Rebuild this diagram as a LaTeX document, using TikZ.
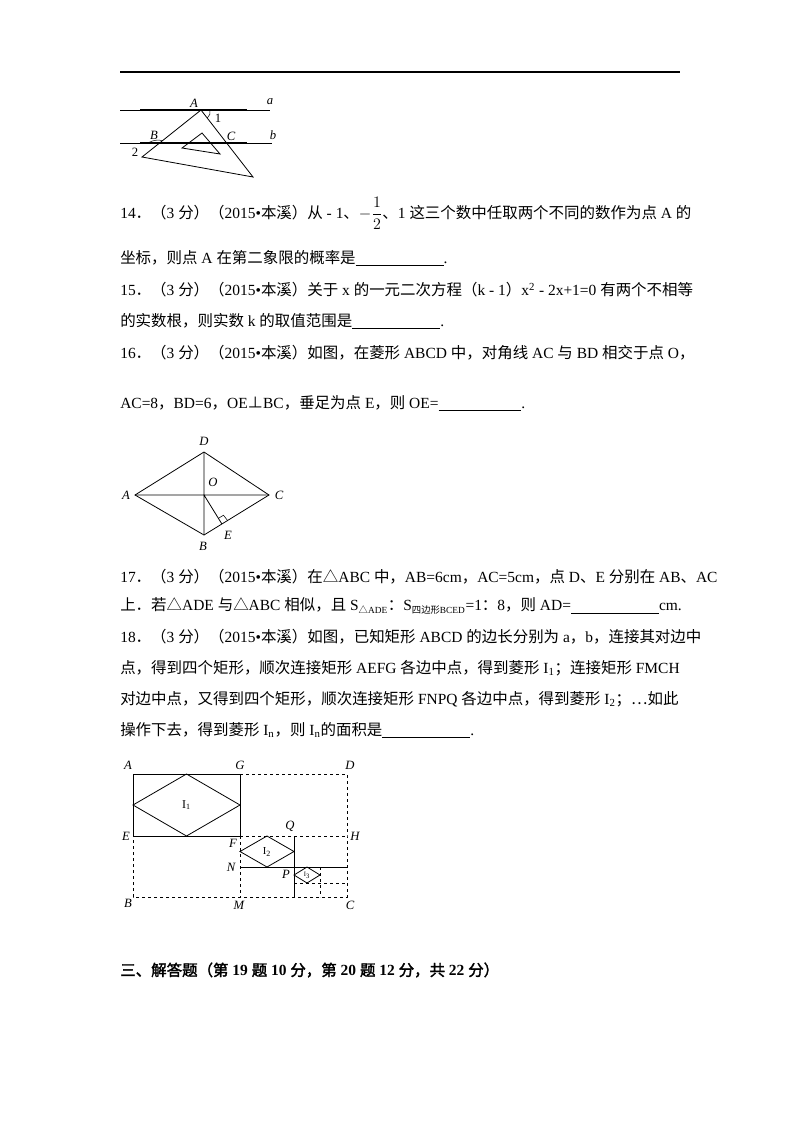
\documentclass[tikz,border=0pt]{standalone}
\usetikzlibrary{calc}
\usepackage{fontspec}
\setmainfont{Liberation Serif}
\newfontfamily\cjk{Noto Sans CJK SC}[AutoFakeBold=2]
\newcommand\z[1]{{\cjk #1}}
\newcommand\blank[1]{\underline{\hspace{#1}}}
\begin{document}
\begin{tikzpicture}[x=0.75pt,y=-0.75pt,
  txt/.style={anchor=west,inner sep=0,font=\fontsize{11.6}{14}\selectfont},
  lab/.style={inner sep=0,font=\fontsize{9.5}{10}\selectfont\itshape},
  fig/.style={line width=0.6pt},
  dsh/.style={line width=0.5pt,dash pattern=on 2.5pt off 2pt}]
\useasboundingbox (0,0) rectangle (800,1132);
\draw[line width=0.8pt] (120,72) -- (680,72);
% figure 1
\draw[fig] (120,110) -- (270,110);
\draw[line width=1.1pt] (140,110) -- (247,110);
\draw[fig] (120,143) -- (272,143);
\draw[line width=1.1pt] (140,143) -- (247,143);
\coordinate (tA) at (201,110); \coordinate (tL) at (142,157); \coordinate (tR) at (253,177);
\draw[fig] (tA) -- (tL) -- (tR) -- cycle;
\draw[fig] (202,133) -- (182,148) -- (220,154) -- cycle;
\draw[line width=0.4pt] ($(tA)!0.12!(tR)$) to[bend right=30] (210,110);
\draw[line width=0.4pt] (148,143) to[bend left=20] ($(tL)!0.35!(tA)$);
\node[lab] (la) at (270,102) {a};
\node[lab] (lb) at (273,135) {b};
\node[lab] (lA) at (194,103) {A};
\node[lab] (lB) at (154,135) {B};
\node[lab] (lC) at (231,136) {C};
\node[lab,font=\fontsize{9.5}{10}\selectfont] (l1) at (218,118) {1};
\node[lab,font=\fontsize{9.5}{10}\selectfont] (l2) at (135,152) {2};
% texts
\node[txt] (t14) at (120,213) {14\z{．（}3 \z{分）（}2015•\z{本溪）从} - 1\z{、}$\displaystyle-\frac{1}{2}$\z{、}1 \z{这三个数中任取两个不同的数作为点} A \z{的}};
\node[txt] (t14b) at (120,258) {\z{坐标，则点} A \z{在第二象限的概率是}\blank{66pt}.};
\node[txt] (t15) at (120,290) {15\z{．（}3 \z{分）（}2015•\z{本溪）关于} x \z{的一元二次方程（}k - 1\z{）}x\textsuperscript{2} - 2x+1=0 \z{有两个不相等}};
\node[txt] (t15b) at (120,321) {\z{的实数根，则实数} k \z{的取值范围是}\blank{66pt}.};
\node[txt] (t16) at (120,353) {16\z{．（}3 \z{分）（}2015•\z{本溪）如图，在菱形} ABCD \z{中，对角线} AC \z{与} BD \z{相交于点} O\z{，}};
\node[txt] (t16b) at (120,403) {AC=8\z{，}BD=6\z{，}OE\z{⊥}BC\z{，垂足为点} E\z{，则} OE=\blank{62pt}.};
% rhombus
\coordinate (rD) at (204,452); \coordinate (rA) at (135,495); \coordinate (rC) at (269,495);
\coordinate (rB) at (204,535); \coordinate (rO) at (204,495); \coordinate (rE) at (221.9,524);
\draw[fig] (rA) -- (rD) -- (rC) -- (rB) -- cycle;
\draw[fig] (rA) -- (rC) (rD) -- (rB) (rO) -- (rE);
\draw[line width=0.4pt] ($(rE)!5pt!(rO)$) -- ++(5.1,-3.1) -- ($(rE)!5pt!(rC)$);
\node[lab] (nD) at (204,441) {D};
\node[lab] (nA) at (126,495) {A};
\node[lab] (nC) at (279,495) {C};
\node[lab] (nB) at (203,546) {B};
\node[lab] (nO) at (213,482) {O};
\node[lab] (nE) at (228,535) {E};
\node[txt] (t17) at (120,577) {17\z{．（}3 \z{分）（}2015•\z{本溪）在△}ABC \z{中，}AB=6cm\z{，}AC=5cm\z{，点} D\z{、}E \z{分别在} AB\z{、}AC};
\node[txt] (t17b) at (120,606) {\z{上．若△}ADE \z{与△}ABC \z{相似，且} S\textsubscript{\z{\scriptsize △}\scriptsize ADE}\z{：}S\textsubscript{\z{\scriptsize 四边形}\scriptsize BCED}=1\z{：}8\z{，则} AD=\blank{66pt}cm.};
\node[txt] (t18) at (120,637) {18\z{．（}3 \z{分）（}2015•\z{本溪）如图，已知矩形} ABCD \z{的边长分别为} a\z{，}b\z{，连接其对边中}};
\node[txt] (t18b) at (120,668) {\z{点，得到四个矩形，顺次连接矩形} AEFG \z{各边中点，得到菱形} I\textsubscript{1}\z{；连接矩形} FMCH};
\node[txt] (t18c) at (120,699) {\z{对边中点，又得到四个矩形，顺次连接矩形} FNPQ \z{各边中点，得到菱形} I\textsubscript{2}\z{；…如此}};
\node[txt] (t18d) at (120,730) {\z{操作下去，得到菱形} I\textsubscript{n}\z{，则} I\textsubscript{n}\z{的面积是}\blank{66pt}.};
% rectangles
\coordinate (A) at (133,774); \coordinate (G) at (240,774); \coordinate (D) at (347,774);
\coordinate (E) at (133,836); \coordinate (F) at (240,836); \coordinate (H) at (347,836);
\coordinate (B) at (133,897); \coordinate (M) at (240,897); \coordinate (C) at (347,897);
\coordinate (Q) at (294,836); \coordinate (N) at (240,867); \coordinate (P) at (294,867);
\draw[dsh] (G) -- (D) -- (H) -- (C) -- (M) -- (B) -- (E);
\draw[dsh] (F) -- (H) (F) -- (M);
\draw[dsh] (320,867) -- (320,897) (294,883) -- (347,883);
\draw[fig] (A) -- (G) -- (F) -- (E) -- cycle;
\draw[fig] (Q) -- (294,897) (N) -- (347,867);
\draw[fig] (186.5,774) -- (240,805) -- (186.5,836) -- (133,805) -- cycle;
\draw[fig] (267,836) -- (294,851.5) -- (267,867) -- (240,851.5) -- cycle;
\draw[fig] (307,867) -- (320,875) -- (307,883) -- (294,875) -- cycle;
\node[inner sep=0,font=\fontsize{9}{9}\selectfont] (i1) at (186.5,805) {I\textsubscript{1}};
\node[inner sep=0,font=\fontsize{8}{8}\selectfont] (i2) at (267,852) {I\textsubscript{2}};
\node[inner sep=0,font=\fontsize{5}{5}\selectfont] (i3) at (307,875) {I\textsubscript{3}};
\node[lab] (LA) at (128,765) {A};
\node[lab] (LG) at (240,765) {G};
\node[lab] (LD) at (350,765) {D};
\node[lab] (LE) at (126,836) {E};
\node[lab] (LF) at (233,843) {F};
\node[lab] (LQ) at (290,826) {Q};
\node[lab] (LH) at (355,836) {H};
\node[lab] (LN) at (231,867) {N};
\node[lab] (LP) at (286,874) {P};
\node[lab] (LB) at (128,903) {B};
\node[lab] (LM) at (239,905) {M};
\node[lab] (LC) at (350,905) {C};
\node[txt,font=\fontsize{11.6}{14}\selectfont\bfseries] (h3) at (120,970) {\z{\bfseries 三、解答题（第} 19 \z{\bfseries 题} 10 \z{\bfseries 分，第} 20 \z{\bfseries 题} 12 \z{\bfseries 分，共} 22 \z{\bfseries 分）}};
\end{tikzpicture}
\end{document}
